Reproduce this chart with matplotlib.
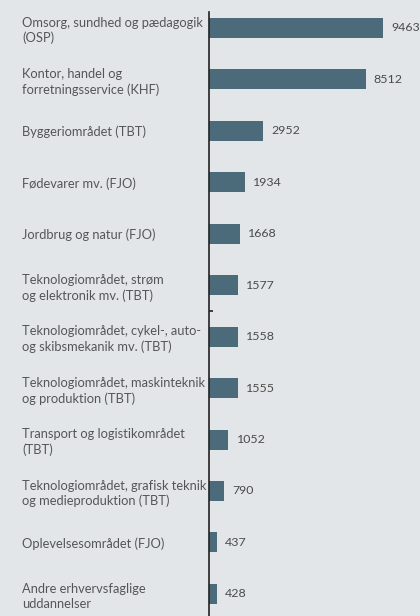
import numpy as np
import matplotlib.pyplot as plt

categories = [
    "Omsorg, sundhed og pædagogik\n(OSP)",
    "Kontor, handel og\nforretningsservice (KHF)",
    "Byggeriområdet (TBT)",
    "Fødevarer mv. (FJO)",
    "Jordbrug og natur (FJO)",
    "Teknologiområdet, strøm\nog elektronik mv. (TBT)",
    "Teknologiområdet, cykel-, auto-\nog skibsmekanik mv. (TBT)",
    "Teknologiområdet, maskinteknik\nog produktion (TBT)",
    "Transport og logistikområdet\n(TBT)",
    "Teknologiområdet, grafisk teknik\nog medieproduktion (TBT)",
    "Oplevelsesområdet (FJO)",
    "Andre erhvervsfaglige\nuddannelser",
]
values = [9463, 8512, 2952, 1934, 1668, 1577, 1558, 1555, 1052, 790, 437, 428]

bg = '#e3e6e9'
bar_col = '#4b6b7b'
plt.rcParams['font.family'] = ['Lato', 'DejaVu Sans']

fig = plt.figure(figsize=(4.2, 6.16), dpi=100, facecolor=bg)
ax = fig.add_axes([209 / 420, 0, 211 / 420, 604 / 616])
ax.set_facecolor(bg)

y = np.arange(len(values))
ax.barh(y, values, height=0.39, color=bar_col)
ax.set_ylim(len(values) - 1 + 0.43, -0.31)
ax.set_xlim(0, 11474)

for yi, v in zip(y, values):
    ax.annotate(str(v), (v, yi), xytext=(6, 0), textcoords='offset points',
                va='center', ha='left', fontsize=8.9, color='#4a4a4a')

ax.set_yticks(y)
ax.set_yticklabels(categories, fontsize=9.3, color='#555555', ha='left',
                   linespacing=1.3)
ax.tick_params(axis='y', length=0, pad=134.6)
ax.set_yticks([5.5], minor=True)
ax.tick_params(axis='y', which='minor', direction='in', length=3, width=1.2,
               color='#222222')
ax.set_xticks([])
for s in ['top', 'right', 'bottom']:
    ax.spines[s].set_visible(False)
ax.spines['left'].set_color('#222222')
ax.spines['left'].set_linewidth(1.2)

fig.savefig('out.png', dpi=100, facecolor=bg)
